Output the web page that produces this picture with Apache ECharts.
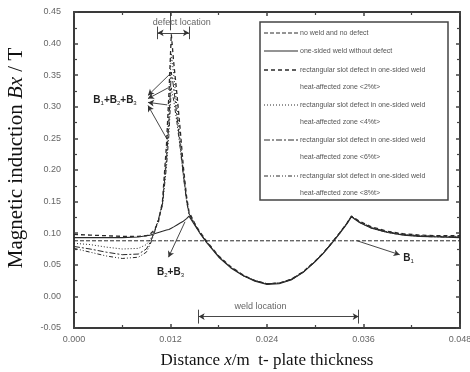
<!DOCTYPE html>
<html><head><meta charset="utf-8">
<script src="https://cdn.jsdelivr.net/npm/echarts@6/dist/echarts.min.js"></script>
<style>html,body{margin:0;padding:0;background:#fff}#c{width:470px;height:372px}</style>
</head><body><div id="c"></div>
<script>
// ---- data ----
const distance = [0, 0.002, 0.004, 0.006, 0.008, 0.009, 0.0095, 0.010, 0.0105, 0.011,
  0.0115, 0.0118, 0.0121, 0.0124, 0.0128, 0.0132, 0.0136, 0.014, 0.0143,
  0.015, 0.0156, 0.0165, 0.018, 0.0195, 0.021, 0.0225, 0.024, 0.0255, 0.027,
  0.0285, 0.030, 0.031, 0.032, 0.033, 0.034, 0.0345,
  0.0355, 0.037, 0.039, 0.041, 0.043, 0.0455, 0.048];

const noWeldNoDefect = [0.088,0.088,0.088,0.088,0.088,0.088,0.088,0.088,0.088,0.088,
  0.088,0.088,0.088,0.088,0.088,0.088,0.088,0.088,0.088,
  0.088,0.088,0.088,0.088,0.088,0.088,0.088,0.088,0.088,0.088,
  0.088,0.088,0.088,0.088,0.088,0.088,0.088,
  0.088,0.088,0.088,0.088,0.088,0.088,0.088];

const weldNoDefect = [0.093,0.093,0.093,0.093,0.094,0.096,0.097,0.099,0.101,0.103,
  0.105,0.106,0.108,0.110,0.113,0.116,0.119,0.123,0.127,
  0.113,0.101,0.085,0.062,0.045,0.033,0.024,0.019,0.020,0.026,
  0.038,0.055,0.068,0.083,0.099,0.116,0.126,
  0.117,0.108,0.101,0.097,0.095,0.094,0.093];

const defect2 = [0.098,0.097,0.096,0.095,0.095,0.096,0.099,0.105,0.118,0.150,
  0.240,0.320,0.415,0.370,0.320,0.265,0.205,0.158,0.134,
  0.116,0.103,0.087,0.064,0.047,0.034,0.025,0.020,0.021,0.027,
  0.039,0.056,0.069,0.084,0.100,0.117,0.127,
  0.119,0.110,0.103,0.099,0.097,0.096,0.096];

const defect4 = [0.084,0.082,0.078,0.075,0.076,0.082,0.090,0.104,0.122,0.148,
  0.225,0.295,0.385,0.350,0.300,0.250,0.198,0.155,0.133,
  0.115,0.102,0.086,0.063,0.046,0.034,0.025,0.020,0.021,0.027,
  0.039,0.056,0.069,0.084,0.100,0.117,0.127,
  0.118,0.109,0.102,0.098,0.096,0.095,0.095];

const defect6 = [0.079,0.075,0.070,0.066,0.067,0.075,0.086,0.102,0.122,0.146,
  0.215,0.275,0.355,0.330,0.285,0.240,0.193,0.152,0.131,
  0.114,0.102,0.086,0.063,0.046,0.033,0.025,0.020,0.021,0.027,
  0.039,0.056,0.069,0.084,0.100,0.117,0.127,
  0.118,0.109,0.102,0.098,0.096,0.095,0.094];

const defect8 = [0.076,0.070,0.064,0.060,0.062,0.070,0.083,0.101,0.121,0.144,
  0.205,0.255,0.330,0.310,0.275,0.235,0.190,0.150,0.130,
  0.114,0.101,0.086,0.063,0.046,0.033,0.025,0.020,0.021,0.026,
  0.038,0.055,0.068,0.083,0.099,0.116,0.126,
  0.117,0.108,0.101,0.097,0.095,0.094,0.094];

const seriesNames = ['no weld and no defect', 'one-sided weld without defect',
  'rectangular slot defect in one-sided weld\nheat-affected zone <2%t>',
  'rectangular slot defect in one-sided weld\nheat-affected zone <4%t>',
  'rectangular slot defect in one-sided weld\nheat-affected zone <6%t>',
  'rectangular slot defect in one-sided weld\nheat-affected zone <8%t>'];
const seriesValues = [noWeldNoDefect, weldNoDefect, defect2, defect4, defect6, defect8];

const xTicks = [0, 0.048, 0.012];   // min, max, interval
const yTicks = [-0.05, 0.45, 0.05];

// annotation anchors (data coordinates)
const defectSpan = [0.0104, 0.0143, 0.417];
const weldSpan = [0.0155, 0.0354, -0.032];
const pointers = [
  [[0.0092, 0.318], [0.0121, 0.354]],
  [[0.0092, 0.313], [0.0117, 0.330]],
  [[0.0092, 0.307], [0.0116, 0.303]],
  [[0.0092, 0.302], [0.0116, 0.248]],
  [[0.01175, 0.062], [0.0138, 0.118]],
  [[0.0405, 0.066], [0.0352, 0.088]]
];
const notes = [
  ['defect location', 0.0134, 0.433],
  ['weld location', 0.0232, -0.016],
  ['{b|B}{s|1}{b|+B}{s|2}{b|+B}{s|3}', 0.0051, 0.310],
  ['{b|B}{s|2}{b|+B}{s|3}', 0.0120, 0.038],
  ['{b|B}{s|1}', 0.0416, 0.060]
];

// ---- styles ----
const lineTypes = [[4, 2], 'solid', [4, 3], [1, 2], [6, 2, 2, 2], [4, 2, 1, 2, 1, 2]];
const lineWidths = [1, 1.1, 1.3, 1, 1, 1];
const ink = '#2a2a2a';

const chart = echarts.init(document.getElementById('c'), null, {renderer: 'canvas'});

const series = seriesValues.map((vals, i) => ({
  name: seriesNames[i], type: 'line', xAxisIndex: 0, yAxisIndex: 0,
  data: distance.map((x, k) => [x, vals[k]]),
  symbol: 'none', animation: false, silent: true,
  lineStyle: {color: ink, width: lineWidths[i], type: lineTypes[i]}
}));

const mlData = [];
// defect-location tick from top
mlData.push([{coord: [0.012, 0.45], symbol: 'none'}, {coord: [0.012, 0.421], symbol: 'none'}]);
[defectSpan, weldSpan].forEach((s, idx) => {
  const h = idx === 0 ? 0.010 : 0.011;
  mlData.push([{coord: [s[0], s[2]], symbol: 'arrow'}, {coord: [s[1], s[2]], symbol: 'arrow'}]);
  mlData.push([{coord: [s[0], s[2] - h], symbol: 'none'}, {coord: [s[0], s[2] + h], symbol: 'none'}]);
  mlData.push([{coord: [s[1], s[2] - h], symbol: 'none'}, {coord: [s[1], s[2] + h], symbol: 'none'}]);
});
pointers.forEach(p => {
  mlData.push([{coord: p[0], symbol: 'arrow'}, {coord: p[1], symbol: 'none'}]);
});

series.push({
  name: 'notes', type: 'line', data: [], xAxisIndex: 0, yAxisIndex: 0, silent: true, animation: false,
  markLine: {
    silent: true, animation: false, symbolSize: [5, 6],
    label: {show: false},
    lineStyle: {color: '#333', width: 0.9, type: 'solid'},
    emphasis: {disabled: true},
    data: mlData
  },
  markPoint: {
    silent: true, animation: false, symbol: 'circle', symbolSize: 0,
    data: notes.map(n => ({
      coord: [n[1], n[2]],
      label: {
        show: true, position: 'inside', formatter: n[0],
        fontFamily: 'Liberation Sans', fontSize: n[0].indexOf('{') < 0 ? 9 : 10,
        color: n[0].indexOf('{') < 0 ? '#666' : '#222',
        rich: {
          b: {fontSize: 10, fontWeight: 'bold', color: '#222', fontFamily: 'Liberation Sans'},
          s: {fontSize: 6, color: '#222', padding: [6, 0, 0, 0], fontFamily: 'Liberation Sans'}
        }
      }
    }))
  }
});

const axisLineStyle = {color: '#3a3a3a', width: 2};
const tickLabelStyle = {fontFamily: 'Liberation Sans', fontSize: 9, color: '#666'};

function xAxis(pos, labels) {
  return {
    type: 'value', position: pos, min: xTicks[0], max: xTicks[1], interval: xTicks[2],
    axisLine: {show: true, onZero: false, lineStyle: axisLineStyle},
    axisTick: {show: true, inside: true, length: 4, lineStyle: {color: '#444', width: 1.5}},
    minorTick: {show: true, splitNumber: 2, length: 3, lineStyle: {color: '#444', width: 1.2}},
    splitLine: {show: false},
    axisLabel: {show: labels, margin: 7, formatter: v => v.toFixed(3), ...tickLabelStyle},
    name: labels ? 'Distance {i|x}/m  t- plate thickness' : '',
    nameLocation: 'middle', nameGap: 24,
    nameTextStyle: {fontFamily: 'Liberation Serif', fontSize: 17, color: '#111',
      rich: {i: {fontFamily: 'Liberation Serif', fontSize: 17, fontStyle: 'italic', color: '#111'}}}
  };
}
function yAxis(pos, labels) {
  return {
    type: 'value', position: pos, min: yTicks[0], max: yTicks[1], interval: yTicks[2],
    axisLine: {show: true, onZero: false, lineStyle: axisLineStyle},
    axisTick: {show: true, inside: true, length: 4, lineStyle: {color: '#444', width: 1.5}},
    minorTick: {show: true, splitNumber: 2, length: 3, lineStyle: {color: '#444', width: 1.2}},
    splitLine: {show: false},
    axisLabel: {show: labels, margin: 13, formatter: v => v.toFixed(2), ...tickLabelStyle},
    name: labels ? 'Magnetic induction {i|Bx} / T' : '',
    nameLocation: 'middle', nameGap: 47,
    nameTextStyle: {fontFamily: 'Liberation Serif', fontSize: 21, color: '#111', padding: [0, 0, 0, 24],
      rich: {i: {fontFamily: 'Liberation Serif', fontSize: 21, fontStyle: 'italic', color: '#111'}}}
  };
}

// legend drawn as graphic (two-line entries)
const legendRows = [33, 51, 70, 105, 140, 176];
const legendEls = [{type: 'rect', shape: {x: 260, y: 22, width: 188, height: 178},
  style: {fill: '#fff', stroke: '#444', lineWidth: 1.5}, silent: true}];
seriesNames.forEach((nm, i) => {
  const y = legendRows[i];
  legendEls.push({type: 'line', shape: {x1: 264, y1: y, x2: 298, y2: y}, silent: true,
    style: {stroke: ink, lineWidth: lineWidths[i], lineDash: lineTypes[i] === 'solid' ? null : lineTypes[i]}});
  legendEls.push({type: 'text', x: 300, y: y - 8.5, silent: true,
    style: {text: nm, fontFamily: 'Liberation Sans', fontSize: 7, fill: '#555',
      lineHeight: 17, align: 'left', verticalAlign: 'top'}});
});

chart.setOption({
  backgroundColor: '#fff',
  animation: false,
  grid: {left: 74, right: 10, top: 12, bottom: 44, containLabel: false, outerBoundsMode: 'none'},
  xAxis: [xAxis('bottom', true), xAxis('top', false)],
  yAxis: [yAxis('left', true), yAxis('right', false)],
  series: series,
  graphic: legendEls
});
</script></body></html>
